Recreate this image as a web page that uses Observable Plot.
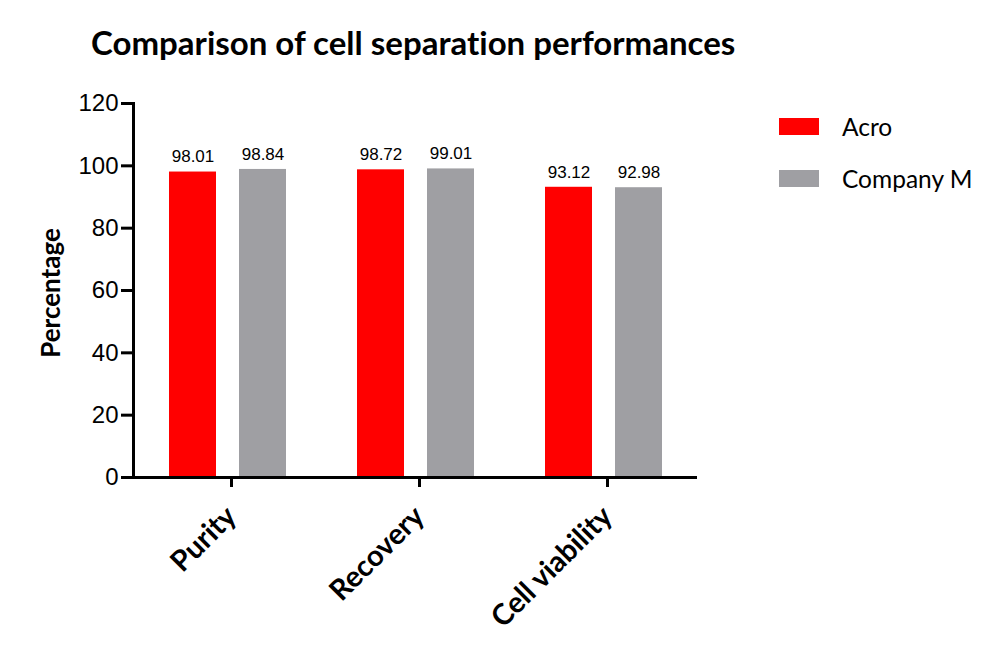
<!DOCTYPE html>
<html>
<head>
<meta charset="utf-8">
<script src="https://cdn.jsdelivr.net/npm/d3@7"></script>
<script src="https://cdn.jsdelivr.net/npm/@observablehq/plot@0.6"></script>
<style>
  html, body { margin: 0; padding: 0; background: #fff; }
  #wrap { position: relative; width: 1000px; height: 659px; overflow: hidden; }
  #title { position: absolute; left: 91px; top: 22px; font-family: Lato, sans-serif; font-weight: bold; font-size: 33px; color: #000; white-space: nowrap; font-variant-ligatures: none; }
  #ylabel { position: absolute; left: 50px; top: 293px; transform: translate(-50%, -50%) rotate(-90deg); font-family: Lato, sans-serif; font-weight: bold; font-size: 26px; color: #000; white-space: nowrap; }
  #legend { position: absolute; left: 779px; top: 100px; font-family: Lato, sans-serif; font-size: 24.5px; color: #000; }
  .item { display: flex; align-items: center; height: 52px; }
  .sw { width: 40px; height: 17px; margin-right: 23px; }
  #chart { position: absolute; left: 0; top: 90px; }
  .chart line, .chart path, .chart rect[fill="none"] { stroke-width: 3px !important; }
  .chart g[aria-label="y-axis tick label"] { font-size: 24px; font-family: "Liberation Sans", Arial, sans-serif; }
</style>
</head>
<body>
<div id="wrap">
  <div id="title">Comparison of cell separation performances</div>
  <div id="ylabel">Percentage</div>
  <div id="legend"></div>
  <div id="chart"></div>
</div>
<script>
const categories = ["Purity", "Recovery", "Cell viability"];
const seriesNames = ["Acro", "Company M"];
const acroValues = [98.01, 98.72, 93.12];
const companyMValues = [98.84, 99.01, 92.98];
const yTicks = [0, 20, 40, 60, 80, 100, 120];
const colors = ["#ff0000", "#9f9fa3"];

const data = categories.flatMap((c, i) => [
  {category: c, series: seriesNames[0], value: acroValues[i]},
  {category: c, series: seriesNames[1], value: companyMValues[i]}
]);

const chart = Plot.plot({
  className: "chart",
  width: 1000,
  height: 569,
  marginTop: 13,
  marginBottom: 182,
  marginLeft: 132,
  marginRight: 303,
  fx: {domain: categories, padding: 0, label: null},
  x: {domain: seriesNames, paddingInner: 0.329, paddingOuter: 0.5, axis: null},
  y: {domain: [0, 120], ticks: yTicks, tickSize: 12, tickPadding: 3, line: true, label: null},
  color: {domain: seriesNames, range: colors},
  marks: [
    Plot.barY(data, {fx: "category", x: "series", y: "value", fill: "series"}),
    Plot.text(data, {fx: "category", x: "series", y: "value", text: d => d.value.toFixed(2), dy: -15, fontSize: 17, fontFamily: "Liberation Sans, Arial, sans-serif", fill: "#000"}),
    Plot.ruleY([0], {stroke: "#000", strokeWidth: 3}),
    Plot.axisFx({anchor: "bottom", tickSize: 10, tickPadding: 24, dx: 4, tickRotate: -45, fontSize: 29, fontWeight: "bold", fontFamily: "Lato, sans-serif", strokeWidth: 3, label: null, color: "#000"})
  ]
});
document.getElementById("chart").appendChild(chart);

const legend = document.getElementById("legend");
seriesNames.forEach((s, i) => {
  const item = document.createElement("div");
  item.className = "item";
  const sw = document.createElement("div");
  sw.className = "sw";
  sw.style.background = colors[i];
  const t = document.createElement("span");
  t.textContent = s;
  item.appendChild(sw);
  item.appendChild(t);
  legend.appendChild(item);
});
</script>
</body>
</html>
